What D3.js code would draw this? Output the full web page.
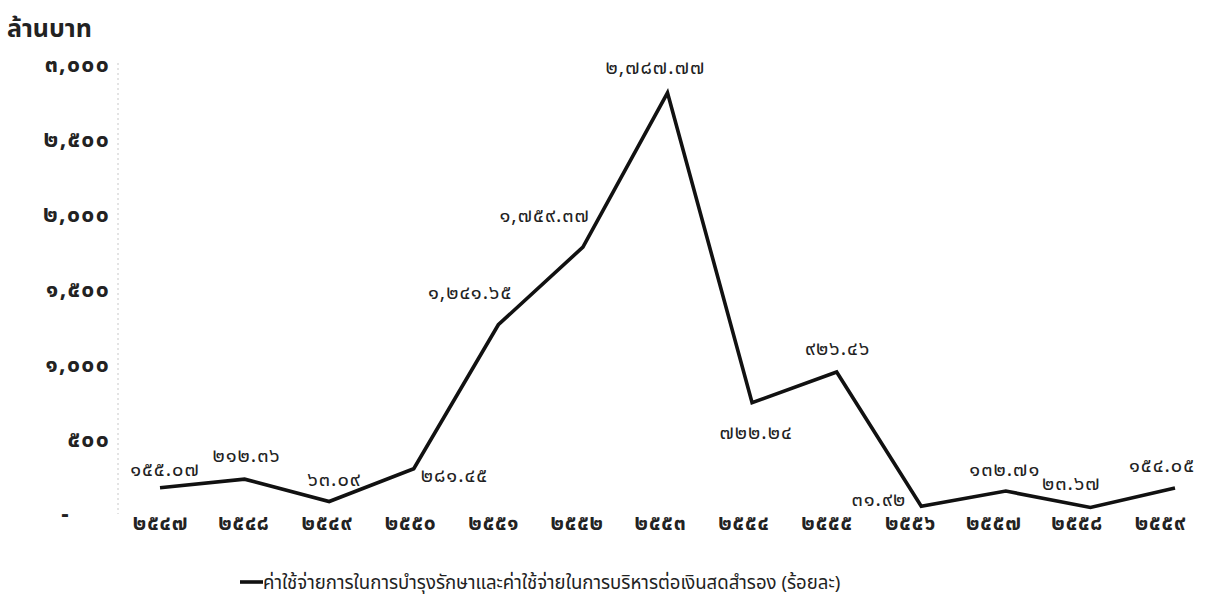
<!DOCTYPE html>
<html>
<head>
<meta charset="utf-8">
<script src="https://cdn.jsdelivr.net/npm/d3@7"></script>
<style>
  html, body { margin: 0; padding: 0; background: #fff; }
  svg { display: block; }
  text { font-family: "Noto Sans Thai", "Noto Sans", "DejaVu Sans", sans-serif; }
</style>
</head>
<body>
<svg id="chart" width="1222" height="612"></svg>
<script>
// ---- data ----
const years = ["2547","2548","2549","2550","2551","2552","2553","2554","2555","2556","2557","2558","2559"];
const values = [155.07, 212.36, 63.09, 281.45, 1241.65, 1759.37, 2787.77, 722.24, 926.46, 31.92, 132.71, 23.67, 154.05];
const yTicks = [0, 500, 1000, 1500, 2000, 2500, 3000];
const seriesName = "ค่าใช้จ่ายการในการบำรุงรักษาและค่าใช้จ่ายในการบริหารต่อเงินสดสำรอง (ร้อยละ)";
const unitTitle = "ล้านบาท";

// label placement relative to each point: [dx, dy, anchor]
const labelOffsets = [
  [5, -18, "middle"], [2, -23, "middle"], [5, -22, "middle"], [7, 7, "start"],
  [14, -32, "end"], [7, -31, "end"], [-12, -25, "middle"], [4, 30, "middle"],
  [1, -23, "middle"], [-15, -6, "end"], [-1, -21, "middle"], [-19, -23, "middle"],
  [-13, -22, "middle"]
];

const thaiDigits = "๐๑๒๓๔๕๖๗๘๙";
const toThai = s => String(s).replace(/[0-9]/g, d => thaiDigits[+d]);

const svg = d3.select("#chart");
const x = d3.scalePoint().domain(years).range([160, 1175]);
const xLabels = d3.scalePoint().domain(years).range([160, 1160]);
const y = d3.scaleLinear().domain([0, 3000]).range([511, 61]);

// title
svg.append("text").attr("x", 7).attr("y", 37)
  .attr("font-size", 25).attr("font-weight", "bold").attr("fill", "#222")
  .text(unitTitle);

// y axis
const yAxis = d3.axisLeft(y).tickValues(yTicks)
  .tickFormat(v => v === 0 ? "-" : toThai(d3.format(",")(v)))
  .tickSize(0).tickPadding(0);
const gy = svg.append("g").attr("transform", "translate(110,0)").call(yAxis);
gy.select(".domain").remove();
gy.selectAll("text").attr("font-size", 23).attr("font-weight", "bold").attr("fill", "#222")
  .attr("letter-spacing", 1.3)
  .attr("dy", "0.45em")
  .attr("dx", v => v === 0 ? -40 : 0);

// faint vertical axis line
svg.append("line").attr("x1", 118).attr("x2", 118).attr("y1", y(3000) + 2).attr("y2", y(0) + 3)
  .attr("stroke", "#c8c8c8").attr("stroke-width", 1).attr("stroke-dasharray", "2,3");

// x axis
const xAxis = d3.axisBottom(xLabels).tickFormat(toThai).tickSize(0).tickPadding(0);
const gx = svg.append("g").attr("transform", "translate(0,524)").call(xAxis);
gx.select(".domain").remove();
gx.selectAll("text").attr("font-size", 21).attr("font-weight", "bold").attr("fill", "#222")
  .attr("letter-spacing", 0.8)
  .attr("dy", "0.3em");

// line
const line = d3.line().x((d, i) => x(years[i])).y(d => y(d));
svg.append("path").datum(values).attr("d", line)
  .attr("fill", "none").attr("stroke", "#111").attr("stroke-width", 3.6)
  .attr("stroke-linejoin", "miter");

// data labels
svg.append("g").selectAll("text").data(values).join("text")
  .attr("x", (d, i) => x(years[i]) + labelOffsets[i][0])
  .attr("y", (d, i) => y(d) + labelOffsets[i][1])
  .attr("dy", "0.3em")
  .attr("text-anchor", (d, i) => labelOffsets[i][2])
  .attr("font-size", 20).attr("fill", "#222")
  .attr("letter-spacing", 1)
  .text(d => toThai(d3.format(",.2f")(d)));

// legend
svg.append("line").attr("x1", 240).attr("x2", 263).attr("y1", 582).attr("y2", 582)
  .attr("stroke", "#111").attr("stroke-width", 3.6);
svg.append("text").attr("x", 263).attr("y", 589)
  .attr("font-size", 18.6).attr("fill", "#222").text(seriesName);
</script>
</body>
</html>
